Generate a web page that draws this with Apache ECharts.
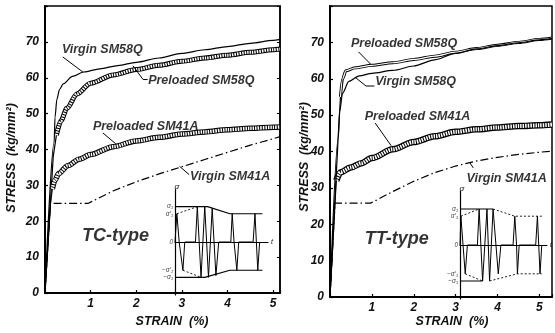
<!DOCTYPE html>
<html><head><meta charset="utf-8">
<script src="https://cdn.jsdelivr.net/npm/echarts@6/dist/echarts.min.js"></script>
<style>html,body{margin:0;padding:0;background:#fff}#c{width:555px;height:333px}</style>
</head><body><div id="c"></div>
<script>
// ---- tick labels ----
const strainTicks = [1, 2, 3, 4, 5];
const stressTicks = [0, 10, 20, 30, 40, 50, 60, 70];

// ---- TC-type panel (strain %, stress kg/mm2) ----
const tcVirgin58 = [[0,0],[0.2,42],[0.22,49],[0.26,54],[0.32,56.8],[0.4,58.3],[0.6,60.4],[0.85,61.6],[1.2,62.5],[1.6,63.4],[2,64.3],[2.5,65.5],[3,66.8],[3.5,67.8],[4,68.7],[4.5,69.6],[5,70.4],[5.15,70.7]];
const tcPre58 = [[0,0],[0.18,38],[0.25,44],[0.35,48],[0.48,51.5],[0.7,55.5],[1,58.5],[1.5,60.8],[2,62.3],[2.5,63.5],[3,64.6],[3.5,65.5],[4,66.3],[4.5,67.1],[5,67.8],[5.15,68]];
const tcPre41 = [[0,0],[0.12,25],[0.16,29],[0.22,31.5],[0.3,33.3],[0.5,35.5],[0.75,37.3],[1,38.6],[1.5,40.8],[2,42.4],[2.5,43.4],[3,44.3],[3.5,44.9],[4,45.5],[4.5,45.9],[5,46.2],[5.15,46.3]];
const tcVirgin41 = [[0,0],[0.12,25],[0.95,25],[1.5,28.5],[2,31],[2.5,33.2],[3,35.2],[3.5,37.2],[4,39.2],[4.5,41.2],[5,43],[5.15,43.6]];

// ---- TT-type panel ----
const ttPre58 = [[0,0],[0.2,45],[0.25,55],[0.3,60],[0.38,62.2],[0.6,63],[1,63.7],[1.5,64.4],[2,65.3],[2.5,66.2],[3,67.3],[3.5,68.3],[4,69.2],[4.5,70],[5,70.8],[5.3,71.2]];
const ttVirgin58 = [[0,0],[0.2,44],[0.23,51],[0.3,56],[0.45,59.3],[0.7,60.8],[1,61.5],[1.5,62.3],[2,63.5],[2.5,65.2],[3,67],[3.5,68.2],[4,69.1],[4.5,69.9],[5,70.7],[5.3,71.1]];
const ttPre41 = [[0,0],[0.12,26],[0.15,32],[0.25,34.3],[0.5,35.6],[0.75,36.8],[1,38.2],[1.5,40.6],[2,42.6],[2.5,44.2],[3,45.4],[3.5,46.1],[4,46.6],[4.5,47],[5,47.2],[5.3,47.4]];
const ttVirgin41 = [[0,0],[0.12,25.8],[0.97,25.8],[1.5,29],[2,31.8],[2.5,34.2],[3,36],[3.5,37.4],[4,38.4],[4.5,39.2],[5,39.8],[5.3,40.1]];

// ---- annotations: [x, y, text] and leader lines ----
const tcLabels = [[0.37,68,'Virgin SM58Q'],[2.26,59.3,'Preloaded SM58Q'],[1.05,46.3,'Preloaded SM41A'],[3.18,32.6,'Virgin SM41A']];
const tcLeaders = [[[0.39,65.8],[0.83,61.6]],[[1.93,63.3],[2.15,59.5],[2.25,59.5]],[[1.27,44.6],[1.55,41.6]],[[2.95,35.3],[3.16,33.0]]];
const ttLabels = [[0.5,69.6,'Preloaded SM58Q'],[1.08,59.1,'Virgin SM58Q'],[0.83,49.5,'Preloaded SM41A'],[3.26,32.7,'Virgin SM41A']];
const ttLeaders = [[[0.68,67.4],[0.97,64]],[[0.6,60.4],[0.86,58.0],[1.06,58.0]],[[1.08,47.8],[1.46,41.6]],[[3.33,37.1],[3.42,35.5]]];
const typeLabels = [[0.81,15.9,'TC-type'],[0.83,15.9,'TT-type']];

// ---- schematic loading-history insets (t, sigma/sigma1) ----
const tcWave = [[0,0],[0.2,0.8],[0.45,0],[0.65,0],[0.85,-0.8],[1.05,0],[2.2,0],[2.4,1],[2.8,-1],[3.2,1],[3.6,-1],[4.0,0.95],[4.4,-0.95],[4.7,0],[6.0,0],[6.15,0.8],[6.35,0],[6.5,0],[6.65,-0.8],[6.85,0],[8.4,0],[8.6,0.8],[8.9,-0.8],[9.1,0]];
const tcUpper = [[0,1],[3.5,1],[5.9,0.8],[9.4,0.8]];
const tcLower = [[0,-1],[3.2,-1],[5.9,-0.8],[9.4,-0.8]];
const tcDashA = [[0.2,0.8],[2.4,1]];
const tcDashB = [[0.85,-0.8],[2.8,-1]];
const ttWave = [[0,0],[0.1,0.8],[0.35,0],[0.6,-0.8],[0.85,0],[2.0,0],[2.2,1],[2.6,-1],[3.1,1],[3.4,-1],[3.8,1],[4.4,-0.8],[4.7,0],[6.1,0],[6.3,0.8],[6.5,0],[6.6,-0.8],[6.8,0],[8.7,0],[8.9,0.8],[9.2,-0.8],[9.4,0]];
const ttUpper = [[0,1],[3.8,1]];
const ttLower = [[0,-1],[2.6,-1]];
const ttDashA = [[0.1,0.8],[2.2,1]];
const ttDashB = [[3.8,1],[6.3,0.8],[9.4,0.8]];
const ttDashC = [[0.6,-0.8],[2.6,-1]];
const ttDashD = [[3.4,-1],[6.6,-0.8],[9.4,-0.8]];
const insetLabels = [[1,'σ₁'],[0.8,'σ′₁'],[0,'0'],[-0.8,'−σ′₁'],[-1,'−σ₁']];

const FONT = 'Liberation Sans';
const txt = (size, extra) => Object.assign({fontFamily: FONT, fontStyle: 'italic', fontWeight: 'bold', fontSize: size, color: '#111'}, extra || {});

const chart = echarts.init(document.getElementById('c'), null, {renderer: 'canvas'});

function mainX(gi, max) {
  return {type: 'value', gridIndex: gi, min: 0, max: max, interval: 1,
    axisLine: {show: true, lineStyle: {color: '#000', width: 2}},
    axisTick: {show: true, inside: true, length: 3, lineStyle: {color: '#000', width: 1.2}},
    axisLabel: {margin: 5, ...txt(12), formatter: v => strainTicks.includes(v) ? String(v) : ''},
    splitLine: {show: false}};
}
function mainY(gi) {
  return {type: 'value', gridIndex: gi, min: 0, max: 80, interval: 10,
    axisLine: {show: true, lineStyle: {color: '#000', width: 2}},
    axisTick: {show: true, inside: true, length: 3, lineStyle: {color: '#000', width: 1.2}},
    axisLabel: {margin: 6, ...txt(12), formatter: v => stressTicks.includes(v) ? String(v) : ''},
    splitLine: {show: false}};
}
function insetX(gi) {
  return {type: 'value', gridIndex: gi, min: 0, max: 10,
    axisLine: {show: true, onZero: true, lineStyle: {color: '#000', width: 1.2}},
    axisTick: {show: false}, axisLabel: {show: false}, splitLine: {show: false},
    name: 't', nameLocation: 'end', nameGap: 3, nameTextStyle: txt(7, {fontWeight: 'normal'})};
}
function insetY(gi) {
  return {type: 'value', gridIndex: gi, min: -1.5, max: 1.5,
    axisLine: {show: true, lineStyle: {color: '#000', width: 1.2}},
    axisTick: {show: false}, axisLabel: {show: false}, splitLine: {show: false},
    name: 'σ', nameLocation: 'end', nameGap: -2, nameTextStyle: txt(8, {fontWeight: 'normal', padding: [0, 0, 0, 4]})};
}

function thin(gi, data, width, type, smooth) {
  return {type: 'line', xAxisIndex: gi, yAxisIndex: gi, data: data, showSymbol: false, silent: true,
    smooth: smooth ? 0.3 : false, smoothMonotone: 'x',
    lineStyle: {color: '#000', width: width, type: type || 'solid'}};
}
// hatched band drawn only past the elastic part; the elastic part is a thin line
function band(gi, data, from, outer, inner, dash) {
  const part = data.filter(p => p[0] >= from);
  return [
    thin(gi, data.filter(p => p[0] <= from), 1.2, 'solid', false),
    {type: 'line', xAxisIndex: gi, yAxisIndex: gi, data: part, showSymbol: false, silent: true, smooth: 0.3, smoothMonotone: 'x',
      lineStyle: {color: '#000', width: outer}},
    {type: 'line', xAxisIndex: gi, yAxisIndex: gi, data: part, showSymbol: false, silent: true, smooth: 0.3, smoothMonotone: 'x',
      lineStyle: {color: '#fff', width: inner, type: dash || 'solid'}}
  ];
}
function labels(gi, arr, size) {
  return {type: 'scatter', xAxisIndex: gi, yAxisIndex: gi, symbolSize: 0, silent: true, clip: false,
    data: arr.map(a => ({value: [a[0], a[1]], name: a[2]})),
    label: {show: true, position: 'right', distance: 0, formatter: '{b}', ...txt(size, {color: '#000'})}};
}
function leaders(gi, arr) {
  return arr.map(seg => ({type: 'line', xAxisIndex: gi, yAxisIndex: gi, data: seg, showSymbol: false, silent: true,
    lineStyle: {color: '#000', width: 1}}));
}
function insetSeries(gi, solids, dashes, wave) {
  const s = [];
  solids.forEach(d => s.push({type: 'line', xAxisIndex: gi, yAxisIndex: gi, data: d, showSymbol: false, silent: true, lineStyle: {color: '#000', width: 1.2}}));
  dashes.forEach(d => s.push({type: 'line', xAxisIndex: gi, yAxisIndex: gi, data: d, showSymbol: false, silent: true, lineStyle: {color: '#000', width: 0.9, type: [2, 2]}}));
  s.push({type: 'line', xAxisIndex: gi, yAxisIndex: gi, data: wave, showSymbol: false, silent: true, lineStyle: {color: '#000', width: 1}});
  s.push({type: 'scatter', xAxisIndex: gi, yAxisIndex: gi, symbolSize: 0, silent: true, clip: false,
    data: insetLabels.map(a => ({value: [0, a[0]], name: a[1]})),
    label: {show: true, position: 'left', distance: 2, formatter: '{b}', ...txt(6.5, {fontWeight: 'normal'})}});
  return s;
}

const series = [].concat(
  band(0, tcPre58, 0.25, 5, 3, [1.5, 1]),
  band(0, tcPre41, 0.16, 5.5, 3.5, [1.5, 1]),
  [thin(0, tcVirgin58, 1.2, 'solid', true), thin(0, tcVirgin41, 1.2, [8, 3, 1.5, 3], false)],
  leaders(0, tcLeaders),
  [labels(0, tcLabels, 12.5), labels(0, [typeLabels[0]], 18)],
  band(1, ttPre41, 0.15, 6.5, 4, [1.5, 1]),
  band(1, ttPre58, 0.25, 3, 1.2),
  [thin(1, ttVirgin58, 1.2, 'solid', true), thin(1, ttVirgin41, 1.2, [8, 3, 1.5, 3], false)],
  leaders(1, ttLeaders),
  [labels(1, ttLabels, 12.5), labels(1, [typeLabels[1]], 18)],
  insetSeries(2, [tcUpper, tcLower], [tcDashA, tcDashB], tcWave),
  insetSeries(3, [ttUpper, ttLower], [ttDashA, ttDashB, ttDashC, ttDashD], ttWave)
);

const option = {
  animation: false,
  backgroundColor: '#fff',
  grid: [
    {left: 45, top: 6, width: 235, height: 287, show: true, borderColor: '#000', borderWidth: 1.5, backgroundColor: 'transparent'},
    {left: 330, top: 6, width: 235, height: 291, show: true, borderColor: '#000', borderWidth: 1.5, backgroundColor: 'transparent'},
    {left: 175, top: 189, width: 93, height: 106},
    {left: 460, top: 191, width: 87, height: 108}
  ],
  xAxis: [mainX(0, 5.15), mainX(1, 5.3), insetX(2), insetX(3)],
  yAxis: [mainY(0), mainY(1), insetY(2), insetY(3),
    {type: 'value', gridIndex: 0, position: 'right', min: 0, max: 80, interval: 10,
      axisLine: {show: true, lineStyle: {color: '#000', width: 1.5}},
      axisTick: {show: true, inside: true, length: 3, lineStyle: {color: '#000'}},
      axisLabel: {show: false}, splitLine: {show: false}}],
  series: series,
  graphic: [
    {type: 'text', x: 12, y: 158, rotation: Math.PI / 2, style: {text: 'STRESS  (kg/mm²)', align: 'center', verticalAlign: 'middle', font: 'italic bold 12.5px "Liberation Sans"', fill: '#111'}},
    {type: 'text', x: 305, y: 157, rotation: Math.PI / 2, style: {text: 'STRESS  (kg/mm²)', align: 'center', verticalAlign: 'middle', font: 'italic bold 12.5px "Liberation Sans"', fill: '#111'}},
    {type: 'text', x: 172, y: 322, style: {text: 'STRAIN  (%)', align: 'center', verticalAlign: 'middle', font: 'italic bold 12.5px "Liberation Sans"', fill: '#111'}},
    {type: 'text', x: 452, y: 322, style: {text: 'STRAIN  (%)', align: 'center', verticalAlign: 'middle', font: 'italic bold 12.5px "Liberation Sans"', fill: '#111'}}
  ]
};
chart.setOption(option);
</script>
</body></html>
